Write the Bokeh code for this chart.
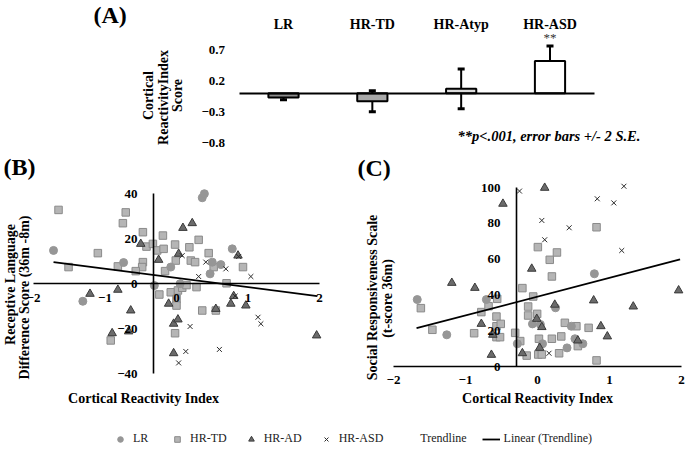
from bokeh.plotting import figure
from bokeh.models import (ColumnDataSource, Range1d, LinearAxis, FixedTicker, Whisker, TeeHead,
                          Label, Legend, LegendItem)
from bokeh.embed import file_html
from bokeh.resources import INLINE
from bokeh.core.properties import value

FONT = "Liberation Serif"

# ---------------- Panel A data ----------------
groups = ["LR", "HR-TD", "HR-Atyp", "HR-ASD"]
cri_mean = [-0.07, -0.13, 0.07, 0.52]
cri_err = [0.035, 0.17, 0.32, 0.24]
sig_marks = ["", "", "", "**"]
bar_colors = ["#8c8c8c", "#a8a8a8", "#dadada", "#ffffff"]
a_ticks = [-0.8, -0.3, 0.2, 0.7]

# ---------------- Panel B data (Receptive language diff vs CRI) ----------------
b_lr_x = [-1.72, -1.31, -0.74, -0.31, -0.08, 0.05, 0.36, 0.39, 0.47, 0.50, 0.62, 0.78]
b_lr_y = [14.7, -7.9, 9.3, -0.9, 7.3, -0.1, 38.1, 39.9, 4.3, 9.5, 8.4, 15.4]
b_td_x = [-1.65, -1.51, -1.10, -0.71, -0.75, -0.47, -0.42, -0.47, -0.48, -0.82, -0.57, -0.33, -0.27,
          -0.18, -0.19, -0.16, -0.02, -0.01, 0.18, 0.31, 0.20, 0.26, 0.45, 0.52, 0.93, 0.70, -0.24,
          -0.08, 0.02, 0.00, 0.08, 0.14, 0.28, 0.00, 0.36, 0.55, -0.02, -0.92]
b_td_y = [32.7, 7.3, 13.5, 31.6, 26.8, 22.8, 16.4, 9.5, 7.3, 7.6, 5.5, 17.6, 14.7,
          15.4, 21.3, 5.5, 17.3, 10.2, 16.1, 19.4, 10.2, 9.5, 13.5, 7.3, 7.3, 0.1, -4.9,
          -3.9, -3.1, -6.8, -1.9, -0.7, -1.6, -9.8, -12.0, -12.0, -22.1, -25.3]
b_ad_x = [-1.21, -0.82, -0.64, -0.90, -0.67, -0.50, -0.25, 0.09, 0.22, 0.03, -0.11, -0.04, 0.02,
          -0.04, 0.55, 0.76, 0.80, 0.97, 0.86, 1.96]
b_ad_y = [-4.6, -2.8, -12.0, -22.1, -21.3, 17.6, 10.5, 24.7, 26.8, 13.2, -9.0, -17.9, -16.0,
          -31.0, -11.3, -9.0, -5.6, -9.8, 12.4, -23.1]
b_asd_x = [0.08, 0.41, 0.69, 0.31, 0.87, 1.04, 0.82, 0.19, 0.13, 0.03, 0.60, 1.14, 1.18]
b_asd_y = [12.4, 9.5, 6.5, 3.1, 12.0, 3.1, -5.6, -19.1, -30.2, -35.3, -29.3, -15.0, -17.9]
b_trend_x = [-1.72, 1.97]
b_trend_y = [9.5, -5.6]
b_xticks = [-2, -1, 0, 1, 2]
b_yticks = [-40, -20, 0, 20, 40]
b_vaxis_at = -0.32

# ---------------- Panel C data (SRS vs CRI) ----------------
c_lr_x = [-1.67, -1.26, -0.71, -0.28, -0.07, 0.04, 0.07, 0.25, 0.41, 0.47, 0.52, 0.63, 0.79]
c_lr_y = [37.4, 17.7, 37.4, 12.7, 23.8, 23.5, 12.7, 32.8, 10.4, 22.5, 15.5, 12.7, 51.8]
c_td_x = [-1.62, -1.46, -0.88, -0.78, -0.68, -0.56, -0.57, -0.57, -0.51, -0.57, -0.52, -0.31, -0.24,
          -0.21, -0.15, -0.13, -0.13, -0.06, -0.005, 0.01, 0.02, 0.06, 0.005, 0.17, 0.27, 0.20,
          0.20, 0.33, 0.30, 0.38, 0.54, 0.56, 0.71, 0.82, 0.82]
c_td_y = [32.6, 20.5, 18.6, 30.4, 33.7, 37.8, 27.9, 22.5, 23.8, 16.4, 16.4, 18.8, 14.2,
          43.8, 6.1, 33.5, 28.5, 39.1, 29.4, 6.7, 15.5, 6.7, 66.7, 59.6, 63.7, 50.3,
          15.5, 16.8, 7.4, 24.4, 22.5, 11.4, 21.6, 77.8, 3.4]
c_ad_x = [-1.19, -0.87, -0.78, -0.48, -0.62, -0.64, -0.21, -0.08, -0.01, 0.06, 0.03, 0.10, 0.24,
          0.78, 0.88, 0.97, 0.56, 1.33, 1.96]
c_ad_y = [46.7, 43.9, 23.8, 90.9, 17.7, 6.5, 7.4, 54.6, 26.6, 22.0, 10.4, 99.8, 34.5,
          36.9, 22.5, 16.8, 14.5, 33.5, 42.5]
c_asd_x = [-0.25, 0.06, 0.10, 0.44, 0.83, 1.06, 1.20, 1.17, 0.16]
c_asd_y = [98.0, 81.6, 70.8, 77.5, 93.7, 91.4, 100.7, 64.8, 7.4]
c_trend_x = [-1.68, 1.98]
c_trend_y = [21.4, 59.8]
c_xticks = [-2, -1, 0, 1, 2]
c_yticks = [0, 20, 40, 60, 80, 100]
c_vaxis_at = -0.29

# ---------------- canvas geometry (page pixels) ----------------
W, H = 685, 451
OX, OY = 0, 0          # page offset of the canvas (Bokeh page has no body margin)


def xrange_for(v1, px1, v2, px2):
    s = (px2 - px1) / (v2 - v1)
    start = v1 - (px1 - OX) / s
    return Range1d(start, start + W / s)


def yrange_for(v1, py1, v2, py2):
    s = (py1 - py2) / (v2 - v1)
    start = v1 - (OY + H - py1) / s
    return Range1d(start, start + H / s)


p = figure(width=W, height=H, x_range=Range1d(0, W), y_range=Range1d(0, H),
           x_axis_location=None, y_axis_location=None,
           output_backend="svg", toolbar_location=None, min_border=0)
p.xgrid.visible = False
p.ygrid.visible = False
p.outline_line_color = None
p.background_fill_color = "white"
p.border_fill_color = "white"

p.extra_x_ranges = {"A": xrange_for(0, 283, 3, 549.5),
                    "B": xrange_for(-2, 33, 2, 319),
                    "C": xrange_for(-2, 393, 2, 681)}
p.extra_y_ranges = {"A": yrange_for(0, 92.7, 0.7, 49.3),
                    "B": yrange_for(0, 283, 40, 193),
                    "C": yrange_for(0, 366, 100, 187)}

STD_LABEL = dict(major_label_text_font=FONT, major_label_text_font_style="bold",
                 major_label_text_font_size="13px", major_label_text_color="black",
                 major_tick_line_color=None, minor_tick_line_color=None)


def axis(panel, side, loc, bounds, ticks, standoff, line=True, **kw):
    ax = LinearAxis(x_range_name=panel, y_range_name=panel, fixed_location=loc,
                    bounds=bounds, ticker=FixedTicker(ticks=ticks),
                    major_label_standoff=standoff, **STD_LABEL)
    if line:
        ax.axis_line_color = "black"
        ax.axis_line_width = 1.6
    else:
        ax.axis_line_color = None
    for k, v in kw.items():
        setattr(ax, k, v)
    p.add_layout(ax, side)
    return ax


def label(px, py, text, size="14px", style="bold", angle=0.0, align="left", baseline="middle"):
    p.add_layout(Label(x=px - OX, y=OY + H - py, x_units="screen", y_units="screen", text=text,
                       text_font=FONT, text_font_size=size, text_font_style=style,
                       text_color="black", angle=angle, text_align=align,
                       text_baseline=baseline))


# ---------------- Panel A ----------------
xpos = list(range(len(groups)))
srcA = ColumnDataSource(dict(
    x=xpos, mean=cri_mean, color=bar_colors, sig=sig_marks,
    upper=[m + e for m, e in zip(cri_mean, cri_err)],
    lower=[m - e for m, e in zip(cri_mean, cri_err)],
))
p.vbar(x="x", top="mean", bottom=0, width=0.34, source=srcA, fill_color="color",
       line_color="black", line_width=2, x_range_name="A", y_range_name="A")
p.add_layout(Whisker(base="x", upper="upper", lower="lower", source=srcA,
                     x_range_name="A", y_range_name="A", line_color="black", line_width=2,
                     upper_head=TeeHead(size=7, line_width=3, line_color="black"),
                     lower_head=TeeHead(size=7, line_width=3, line_color="black")))
p.text(x="x", y="upper", text="sig", source=srcA, text_font=value(FONT),
       text_font_size="13px", text_align="center", text_baseline="bottom",
       text_color="#333333", y_offset=-1, x_range_name="A", y_range_name="A")

# zero line (category axis at y = 0, without labels)
axis("A", "below", 0, (-0.5, 3.5), [], 0, axis_line_width=2.2)
# category labels along the top
axis("A", "above", 0.87, (-0.5, 3.5), xpos, 1, line=False,
     major_label_overrides={i: g for i, g in zip(xpos, groups)},
     major_label_text_font_size="14px")
# value axis
axis("A", "left", -0.5, (a_ticks[0], a_ticks[-1]), a_ticks, 8, line=False)

label(93, 1, "(A)", size="24px", baseline="top")
label(148, 95, "Cortical", angle=1.5708, align="center")
label(163, 97, "ReactivityIndex", angle=1.5708, align="center")
label(177, 95, "Score", angle=1.5708, align="center")
label(457, 135, "**p<.001, error bars +/- 2 S.E.", size="14.5px", style="bold italic")

# ---------------- scatter styles ----------------
LR_STYLE = dict(marker="circle", size=8, fill_color="#969696", line_color="#969696")
TD_STYLE = dict(marker="square", size=7.5, fill_color="#b5b5b5", line_color="#8a8a8a", line_width=1)
AD_STYLE = dict(marker="triangle", size=8.5, fill_color="#6b6b6b", line_color="#3a3a3a", line_width=1)
ASD_STYLE = dict(marker="x", size=7, line_color="#2b2b2b", line_width=1)


def scatter_panel(name, lr, td, ad, asd, trend):
    rr = dict(x_range_name=name, y_range_name=name)
    r_td = p.scatter(td[0], td[1], **TD_STYLE, **rr)
    r_lr = p.scatter(lr[0], lr[1], **LR_STYLE, **rr)
    r_ad = p.scatter(ad[0], ad[1], **AD_STYLE, **rr)
    r_asd = p.scatter(asd[0], asd[1], **ASD_STYLE, **rr)
    r_tr = p.line(trend[0], trend[1], line_color="black", line_width=1.8, **rr)
    return r_lr, r_td, r_ad, r_asd, r_tr


# ---------------- Panel B ----------------
axis("B", "below", 0, (b_xticks[0], b_xticks[-1]), b_xticks, 4)
axis("B", "left", b_vaxis_at, (b_yticks[0], b_yticks[-1]), b_yticks, 10)
rB = scatter_panel("B", (b_lr_x, b_lr_y), (b_td_x, b_td_y), (b_ad_x, b_ad_y),
                   (b_asd_x, b_asd_y), (b_trend_x, b_trend_y))
label(3, 166, "(B)", size="24px", baseline="alphabetic")
label(143, 398, "Cortical Reactivity Index", align="center")
label(10, 284, "Receptive Language", angle=1.5708, align="center")
label(24, 297, "Difference Score (36m -8m)", angle=1.5708, align="center")

# ---------------- Panel C ----------------
axis("C", "below", 0, (c_xticks[0], c_xticks[-1]), c_xticks, 3)
axis("C", "left", c_vaxis_at, (c_yticks[0], c_yticks[-1]), c_yticks, 10)
rC = scatter_panel("C", (c_lr_x, c_lr_y), (c_td_x, c_td_y), (c_ad_x, c_ad_y),
                   (c_asd_x, c_asd_y), (c_trend_x, c_trend_y))
label(357, 167, "(C)", size="24px", baseline="alphabetic")
label(537, 398, "Cortical Reactivity Index", align="center")
label(372, 297, "Social Responsiveness Scale", angle=1.5708, align="center")
label(387, 298, "(t-score 36m)", angle=1.5708, align="center")

# ---------------- legend ----------------
r_blank = p.line(b_trend_x, b_trend_y, line_alpha=0, x_range_name="B", y_range_name="B")
leg = Legend(items=[LegendItem(label="LR", renderers=[rB[0]]),
                    LegendItem(label="HR-TD", renderers=[rB[1]]),
                    LegendItem(label="HR-AD", renderers=[rB[2]]),
                    LegendItem(label="HR-ASD", renderers=[rB[3]]),
                    LegendItem(label="Trendline", renderers=[r_blank]),
                    LegendItem(label="Linear (Trendline)", renderers=[rB[4]])],
             orientation="horizontal", location=(111, 5), padding=0, margin=0,
             spacing=15, glyph_width=18, glyph_height=14, label_height=14,
             label_standoff=4, label_text_font=FONT, label_text_font_size="12px",
             label_text_color="#222222", border_line_color=None, background_fill_alpha=0)
p.add_layout(leg)

open("out.html", "w").write(file_html(p, INLINE, title="Cortical reactivity"))
